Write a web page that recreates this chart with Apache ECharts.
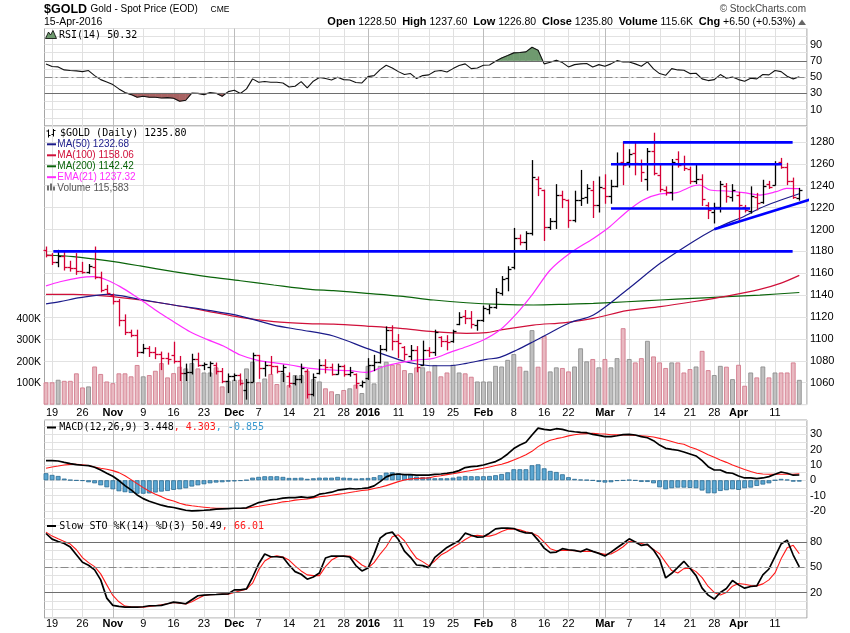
<!DOCTYPE html>
<html>
<head>
<meta charset="utf-8">
<title>$GOLD</title>
<script src="https://cdn.jsdelivr.net/npm/echarts@6.0.0/dist/echarts.min.js"></script>
<style>
html,body{margin:0;padding:0;background:#ffffff;}
#chart{width:850px;height:633px;}
</style>
</head>
<body>
<div id="chart"></div>
<script>
// ================= DATA =================
const tradingDays = ['10/16','10/19','10/20','10/21','10/22','10/23','10/26','10/27','10/28','10/29','10/30',
'11/02','11/03','11/04','11/05','11/06','11/09','11/10','11/11','11/12','11/13','11/16','11/17','11/18','11/19','11/20','11/23','11/24','11/25','11/27','11/30',
'12/01','12/02','12/03','12/04','12/07','12/08','12/09','12/10','12/11','12/14','12/15','12/16','12/17','12/18','12/21','12/22','12/23','12/24','12/28','12/29','12/30','12/31',
'01/04','01/05','01/06','01/07','01/08','01/11','01/12','01/13','01/14','01/15','01/19','01/20','01/21','01/22','01/25','01/26','01/27','01/28','01/29',
'02/01','02/02','02/03','02/04','02/05','02/08','02/09','02/10','02/11','02/12','02/16','02/17','02/18','02/19','02/22','02/23','02/24','02/25','02/26','02/29',
'03/01','03/02','03/03','03/04','03/07','03/08','03/09','03/10','03/11','03/14','03/15','03/16','03/17','03/18','03/21','03/22','03/23','03/24','03/28','03/29','03/30','03/31',
'04/01','04/04','04/05','04/06','04/07','04/08','04/11','04/12','04/13','04/14','04/15'];

const openPx = [1181,1177,1170,1176,1166,1165,1162,1161,1166,1157,
1146,1140,1135,1117,1106,1104,1088,1092,1088,1086,
1083,1085,1080,1069,1070,1082,1076,1074,1076,1071,
1062,1066,1067,1053,1061,1085,1073,1076,1075,1071,
1066,1060,1063,1071,1050,1069,1076,1074,1068,1075,
1068,1068,1058,1064,1076,1079,1091,1108,1098,1093,
1084,1090,1076,1090,1088,1102,1098,1098,1114,1121,
1119,1113,1117,1127,1129,1142,1156,1166,1192,1189,
1197,1246,1236,1202,1208,1232,1227,1209,1227,1230,
1236,1222,1238,1231,1240,1262,1262,1270,1260,1246,
1272,1250,1236,1234,1264,1260,1255,1244,1246,1222,
1216,1221,1240,1230,1232,1221,1217,1230,1225,1242,
1241,1262,1257,1244,1228.5];
const highPx = [1184,1178,1181,1179,1171,1178,1170,1168,1184,1161,
1149,1141,1136,1122,1108,1108,1095,1093,1092,1088,
1087,1097,1084,1077,1086,1087,1078,1079,1078,1073,
1068,1068,1068,1063,1087,1085,1079,1084,1075,1076,
1069,1066,1077,1072,1068,1081,1081,1077,1077,1076,
1074,1068,1061.5,1082,1085,1094,1111,1112,1104,1093,
1094,1093,1098,1092,1108,1102,1103,1108,1124,1126,
1125,1117,1130,1131,1146,1157,1166,1201,1195,1198,
1263,1248,1236,1210,1241,1235,1227,1235,1254,1241,
1244,1248,1250,1245,1270,1280,1273,1279,1263.5,1274,
1288,1260,1239,1264,1271,1267,1257,1260,1250,1224.5,
1224,1244,1242,1241,1234,1222,1239,1233,1245,1244,
1262,1265,1260.5,1247,1237.6];
const lowPx = [1175,1168,1166,1163,1162,1159,1160,1160,1155,1143,
1141,1132,1112,1104,1102,1084,1087,1084,1082,1072,
1077,1078,1062,1062,1068,1075,1072,1066,1068,1060,
1051,1062,1058,1045,1061,1064,1066,1068,1069,1061,
1056,1058,1060,1046,1048,1068,1069,1067,1068,1066,
1066,1055,1056,1063,1071,1078,1089,1090,1083,1081,
1081,1070,1076,1084,1085,1093,1090,1097,1113,1114,
1110,1108,1116,1123,1128,1140,1144,1164,1186,1180,
1195,1231,1190,1200,1201,1220,1202,1207,1222,1224,
1211,1216,1224,1224,1239,1241,1257,1250,1244,1236,
1250,1234.6,1231.5,1227,1257,1254,1242,1242,1222,1210,
1206,1216,1225,1226,1208,1216,1215,1218,1224,1237.6,
1240.7,1256,1241,1228.5,1226.8];
const closePx = [1177,1170,1176,1166,1165,1162,1161,1167,1157,1145,
1142,1135,1117,1106,1104,1088,1092,1088,1086,1083,
1082,1080,1069,1070,1082,1076,1077,1078,1071,1062,
1066,1067,1060,1061,1085,1073,1076,1075,1071,1074,
1060,1063,1073,1050,1065,1076,1074,1068,1075,1068,
1070,1060,1061,1076,1079,1091,1108,1098,1096,1086,
1090,1074,1090,1088,1106,1098,1097,1107,1120,1119,
1114,1117,1128,1129,1143,1155,1164,1192,1189,1197,
1248,1238,1202,1208,1232,1228,1209,1227,1229,1238,
1222,1239,1231,1240,1261,1259,1269,1261,1253,1272,
1252,1237,1234,1262,1259,1256,1244,1246,1228,1218,
1221,1242,1231,1236,1222,1218,1231,1224,1240,1239,
1260,1257,1244,1229.3,1235.8];
// volume in thousands of contracts
const volumeK = [104,104,116,111,111,146,80,85,178,143,
108,100,146,146,132,185,132,138,158,194,
127,147,177,169,194,169,150,150,174,85,
111,116,116,169,200,104,122,143,96,147,
91,138,138,158,119,108,76,62,49,68,
76,93,54,181,99,181,200,186,189,161,
147,174,174,155,185,132,150,186,150,146,
130,108,108,108,181,178,209,236,177,158,
348,177,321,155,174,171,155,178,263,202,
213,174,213,174,217,357,213,197,217,298,
225,197,171,197,197,150,166,178,251,161,
138,181,177,119,186,88,150,127,178,127,
150,150,150,197,115.583];

const rsi14 = [66.2,62.9,62.5,58.8,58.0,57.6,56.7,58.0,51.8,46.9,
44.1,40.8,35.5,31.0,28.5,25.3,26.5,25.3,25.3,24.4,
24.8,24.0,20.3,21.6,30.3,30.0,28.5,31.0,30.2,26.5,
32.2,33.8,29.8,35.5,47.8,43.7,44.5,43.7,43.7,42.8,
37.9,38.8,44.5,36.7,44.9,49.4,48.2,46.5,49.8,46.9,
46.5,43.3,42.8,50.6,51.8,59.2,64.5,61.2,56.7,53.1,
54.3,48.2,51.8,52.7,57.2,58.0,56.3,60.4,64.1,66.2,
60.4,61.2,64.5,64.9,69.4,73.5,76.4,79.7,80.1,80.9,
86.6,82.9,66.2,68.2,70.7,67.8,62.5,65.3,66.2,66.6,
62.5,65.3,63.3,66.2,70.2,68.6,68.6,66.2,63.3,68.6,
60.0,54.3,52.2,60.4,58.8,58.4,54.3,54.7,47.8,45.7,
46.9,53.1,48.6,50.2,46.9,44.9,48.6,47.8,53.1,52.7,
58.0,56.7,51.0,47.8,50.32];

const macdLine = [12.8,12.8,12.6,11.7,10.9,10.2,9.8,9.6,8.5,6.7,
4.6,2.6,-0.2,-3.5,-6.3,-9.6,-12.0,-13.7,-15.0,-16.3,
-17.2,-17.8,-18.7,-19.6,-20.0,-19.8,-19.6,-19.3,-18.9,-18.7,
-18.5,-18.3,-18.3,-18.0,-16.3,-14.6,-13.7,-12.8,-12.4,-11.7,
-11.3,-11.3,-10.9,-11.3,-10.9,-9.1,-8.5,-7.8,-6.5,-5.9,
-5.4,-5.7,-5.4,-5.0,-3.7,-0.9,2.2,3.7,4.1,3.7,
3.7,3.3,3.3,3.3,3.9,4.1,4.6,5.2,6.3,8.3,
8.9,9.3,10.0,11.1,12.2,14.3,17.2,20.7,23.0,24.8,
29.6,34.1,33.3,32.8,33.7,33.3,32.2,31.7,31.3,31.1,
30.0,29.3,28.5,28.5,29.1,29.8,30.0,29.6,28.5,27.8,
25.9,23.0,20.9,20.2,19.6,18.5,17.2,15.9,12.8,8.9,
6.7,6.7,5.0,4.6,2.8,1.5,1.5,1.1,1.5,2.4,
3.9,5.4,4.6,3.3,3.448];
const macdSignal = [7.9,8.7,9.3,10.0,10.4,10.4,10.1,9.6,8.7,7.9,
7.2,6.3,5.0,2.9,0.4,-2.2,-4.8,-7.2,-9.1,-10.7,
-12.5,-13.5,-15.0,-16.1,-16.7,-17.2,-17.6,-18.0,-18.3,-18.4,
-18.5,-18.5,-18.5,-18.3,-17.6,-17.0,-16.3,-15.7,-15.0,-14.1,
-13.7,-13.0,-12.6,-12.2,-11.5,-10.8,-10.4,-9.8,-9.2,-8.7,
-8.0,-7.4,-6.7,-6.3,-5.4,-4.6,-3.5,-2.2,-0.9,0.2,
0.9,1.2,1.4,1.5,2.5,3.0,3.7,4.3,5.0,5.7,
6.4,7.1,7.8,8.7,9.6,10.5,11.7,13.3,14.9,16.7,
18.9,22.0,24.3,26.1,27.2,28.0,29.0,29.8,30.2,30.5,
30.7,30.4,30.2,29.8,29.7,29.6,29.6,29.3,29.1,28.8,
28.3,27.4,26.5,25.4,24.2,23.5,21.7,20.4,18.7,16.7,
15.0,13.3,11.7,10.0,8.5,7.0,5.7,4.6,4.1,3.9,
3.9,3.9,3.9,3.9,4.303];
const macdHist = [4.6,3.5,2.8,1.1,0.2,-0.2,-0.4,-1.3,-2.0,-3.3,
-4.6,-5.9,-7.2,-7.8,-8.3,-8.8,-8.8,-8.6,-8.0,-7.4,
-7.0,-6.3,-5.9,-5.2,-4.1,-3.3,-2.6,-2.0,-1.5,-1.3,
-0.9,-0.7,-0.4,0.1,1.7,2.2,2.6,2.6,2.6,2.2,
1.5,1.5,1.7,0.9,1.3,1.7,1.7,1.7,2.2,1.7,
1.5,1.1,1.3,1.5,2.0,3.3,5.0,5.2,4.6,3.9,
3.7,2.4,2.0,2.0,1.3,1.3,1.3,1.7,2.4,2.8,
2.6,2.6,2.6,2.8,3.3,4.1,5.2,7.2,7.2,7.2,
9.8,10.4,7.8,6.1,5.4,3.9,2.0,0.9,0.4,0.2,
-0.2,-1.1,-1.5,-1.3,-0.4,-0.2,0.2,-0.2,-1.1,-1.1,
-2.0,-4.6,-5.9,-5.2,-4.8,-4.8,-5.0,-5.2,-6.7,-8.5,
-8.5,-7.0,-6.5,-5.9,-6.3,-5.2,-4.8,-3.7,-2.8,-2.0,
0.0,0.9,0.4,-0.9,-0.855];

const stoK = [90.0,83.3,80.6,78.2,73.9,64.9,55.9,52.4,46.9,35.1,
13.5,4.9,3.7,2.9,2.9,2.9,3.3,4.5,4.5,4.9,
6.9,8.8,8.0,6.9,11.6,16.3,17.1,17.5,17.8,18.2,
18.6,23.3,23.3,24.5,38.2,53.9,65.7,62.5,62.5,61.8,
52.7,44.9,41.8,35.9,38.6,43.3,61.0,63.3,63.3,63.3,
62.2,52.0,45.7,49.2,65.3,84.5,90.0,91.6,82.9,69.2,
61.8,52.7,52.0,49.6,61.8,67.6,73.5,77.5,81.4,90.4,
88.0,85.7,86.1,90.4,95.5,96.3,96.3,95.9,92.7,90.8,
90.4,82.2,72.7,67.3,68.0,72.0,70.8,70.0,68.4,71.6,
68.8,66.5,63.3,68.0,73.1,78.2,83.7,79.8,75.9,77.1,
70.4,59.4,37.5,42.9,50.0,57.1,48.8,40.2,25.3,17.1,
12.4,20.2,24.9,34.3,29.2,25.3,27.3,28.0,41.0,48.0,
62.5,77.5,82.2,64.5,50.49];
const stoD = [91.6,86.9,83.7,80.6,77.5,70.8,61.4,55.5,50.8,42.2,
29.2,16.7,9.2,4.1,3.3,2.9,2.9,3.7,4.5,5.7,
6.9,8.4,7.6,6.5,9.2,13.1,16.7,17.5,17.8,18.2,
18.2,20.2,22.2,24.1,31.2,46.9,57.5,61.8,63.7,62.2,
58.6,51.6,45.7,41.0,40.2,40.2,50.8,58.6,62.5,63.3,
63.3,58.6,52.7,49.2,55.5,65.7,74.3,86.1,88.4,81.4,
70.4,60.6,56.7,52.0,57.5,64.5,68.4,73.5,77.8,82.9,
86.9,88.0,86.9,86.9,88.8,92.4,95.1,95.5,94.3,92.0,
90.4,86.9,79.8,72.0,69.6,70.0,70.0,69.6,68.8,68.8,
68.8,66.9,65.3,65.7,69.6,74.3,80.6,79.8,78.2,76.3,
71.2,66.1,55.9,46.1,43.3,48.4,48.8,44.9,37.8,27.3,
20.2,17.1,20.2,27.6,30.8,30.0,28.4,28.0,30.4,35.1,
43.3,60.0,73.0,76.0,66.01];

// moving averages, read as [day index, value] points along each curve
const ma50 = [[0,1132],[2.3,1134.1],[5.6,1137.7],[10,1140.8],[12.2,1139.6],[15.5,1136.2],[21,1131.0],[26.5,1126.4],[32,1120.9],[37.5,1112.7],[41.8,1108.4],[47.3,1102.7],[52.8,1091.4],[58.3,1080.7],[61,1077.1],[63.8,1075.5],[66.5,1075.5],[69.2,1077.7],[72.5,1081.3],[74.7,1083.2],[77.5,1089.9],[80.2,1097.5],[83,1105.7],[86.3,1115.0],[90.1,1121.8],[95.6,1144.7],[101.1,1169.1],[106.5,1188.9],[109.8,1199.6],[112.1,1205.6],[114.8,1211.7],[117.5,1219.4],[120.2,1225.4],[124,1232.68]];
const ma100 = [[0,1140.8],[4.5,1140.8],[10,1139.2],[15.5,1135.6],[21,1131.0],[26.5,1125.5],[32,1119.7],[37.5,1115.8],[43,1114.0],[47.3,1113.6],[52.8,1111.8],[58.3,1109.7],[63.8,1106.6],[69.2,1105.1],[72.5,1105.7],[74.7,1108.1],[80.2,1112.7],[85.5,1115.0],[90.1,1118.8],[95.6,1125.8],[101.1,1129.5],[106.5,1134.0],[112.1,1139.2],[117.5,1145.3],[121,1151.0],[124,1158.06]];
const ma200 = [[0,1176.7],[4.5,1175.2],[10,1171.5],[15.5,1166.7],[21,1161.5],[26.5,1156.9],[32,1153.2],[37.5,1149.3],[43.5,1145.3],[47.3,1144.1],[52.8,1141.7],[58.3,1139.2],[63.8,1135.6],[69.2,1133.1],[74.7,1131.6],[80.2,1131.0],[86.3,1131.9],[90.1,1132.5],[95.6,1134.0],[101.1,1135.6],[106.5,1137.1],[112.1,1138.6],[117.5,1140.1],[124,1142.42]];
const ema21 = [[0,1148.5],[2.3,1152.3],[5.6,1156.0],[7.8,1156.9],[10,1153.9],[12.2,1147.8],[14.4,1140.2],[16.6,1131.9],[18.8,1123.4],[21,1115.8],[23.7,1106.6],[26.5,1099.6],[29.2,1093.5],[32,1085.3],[34.7,1080.7],[37.5,1078.3],[40.2,1076.2],[43.5,1073.1],[47.3,1071.6],[50,1071.0],[52.8,1069.4],[55.5,1074.6],[58.3,1078.3],[61,1080.7],[63.8,1082.3],[66.5,1087.7],[69.2,1092.9],[72,1099.0],[74.7,1108.1],[77.5,1123.4],[80.2,1141.7],[83,1163.0],[86.3,1178.5],[90.1,1191.9],[92.8,1202.6],[95.6,1216.3],[98.3,1227.0],[101.1,1232.5],[103.8,1233.7],[106.5,1239.8],[107.6,1240.7],[109.3,1236.1],[112.1,1235.2],[114.8,1233.7],[117.5,1231.5],[120.2,1234.6],[121.9,1237.6],[124,1237.32]];

// hand-drawn annotation lines: [[startIndex, price], [endIndex, price]]
const trendLines = [
  [[1.2,1180],[122.9,1180]],
  [[95.0,1279.6],[122.9,1279.6]],
  [[93.0,1259.6],[121.1,1259.6]],
  [[93.0,1219.2],[115.9,1219.2]],
  [[110.0,1200.2],[126.9,1229.4]]
];

// x-axis ticks (day index, label) and vertical grid positions
const xTicks = [[1,'19'],[6,'26'],[11,'Nov'],[16,'9'],[21,'16'],[26,'23'],[31,'Dec'],[35,'7'],[40,'14'],[45,'21'],[49,'28'],[53,'2016'],[58,'11'],[63,'19'],[67,'25'],[72,'Feb'],[77,'8'],[82,'16'],[86,'22'],[92,'Mar'],[96,'7'],[101,'14'],[106,'21'],[110,'28'],[114,'Apr'],[120,'11']];
const weekStarts = [1,6,11,16,21,26,30,35,40,45,49,53,58,63,67,72,77,82,86,91,96,101,106,110,115,120];
const monthStarts = [11,31,53,72,92,114];

const rsiTickLabels = [10,30,50,70,90];
const priceTickLabels = [1060,1080,1100,1120,1140,1160,1180,1200,1220,1240,1260,1280];
const volTickLabels = [100,200,300,400];
const macdTickLabels = [-20,-10,0,10,20,30];
const stoTickLabels = [20,50,80];

const header = {open:'1228.50', high:'1237.60', low:'1226.80', close:'1235.80', volume:'115.6K', chg:'+6.50 (+0.53%)', date:'15-Apr-2016'};

// ================= CHART =================
const N = closePx.length;
const FONT = '"Liberation Sans", Arial, sans-serif';
const MONO = '"DejaVu Sans Mono", monospace';
const RED = '#d40035';
const C_MA50 = '#1b1b8a', C_MA100 = '#d0103a', C_MA200 = '#0a640a', C_EMA = '#ff2cff';
const upFlag = closePx.map((c, i) => (i === 0 ? c >= openPx[0] : c >= closePx[i - 1]) ? 1 : 0);

const gridBox = (top, h) => ({left: 44.5, top: top, width: 762.4, height: h, show: true,
  borderColor: '#a6a6a6', borderWidth: 1, backgroundColor: 'transparent'});
const grids = [gridBox(28.5, 97.5), gridBox(126, 278.6), gridBox(420, 98.5), gridBox(518.5, 99.5)];

const tickMap = {}; xTicks.forEach(t => { tickMap[t[0]] = t[1]; });
const monthSet = new Set(monthStarts);
function xLabel(v) {
  const r = Math.round(v);
  if (Math.abs(v - r) > 1e-6) return '';
  const t = tickMap[r];
  if (t === undefined) return '';
  return monthSet.has(r) ? '{b|' + t + '}' : t;
}
const pick = arr => v => { const r = Math.round(v * 1000) / 1000; return arr.indexOf(r) >= 0 ? String(r) : ''; };

const xAxes = [0, 1, 2, 3].map(k => ({
  type: 'value', gridIndex: k, min: -0.25, max: 125.25, interval: 0.25,
  axisLine: {show: false}, axisTick: {show: false}, splitLine: {show: false},
  axisLabel: {show: k === 1 || k === 3, formatter: xLabel, margin: k === 1 ? 3 : 0,
    color: '#000', fontSize: 11, fontFamily: FONT,
    rich: {b: {fontWeight: 'bold', fontSize: 11, fontFamily: FONT, color: '#000'}}}
}));
const yBase = (k, min, max, interval, labels, extra) => Object.assign({
  type: 'value', gridIndex: k, position: 'right', min: min, max: max, interval: interval,
  axisLine: {show: false}, axisTick: {show: false},
  splitLine: {show: true, lineStyle: {color: '#e2e2e2', width: 1}},
  axisLabel: {formatter: pick(labels), margin: 3, color: '#000', fontSize: 11, fontFamily: FONT}
}, extra || {});
const yAxes = [
  yBase(0, -10, 109.6, 10, rsiTickLabels),
  yBase(1, 1040, 1294.6, 20, priceTickLabels),
  yBase(1, 0, 1302, 100, volTickLabels, {position: 'left', splitLine: {show: false},
    axisLabel: {formatter: v => volTickLabels.indexOf(Math.round(v)) >= 0 ? Math.round(v) + 'K' : '',
      margin: 3.5, color: '#000', fontSize: 10.5, fontFamily: FONT}}),
  yBase(2, -25, 39.4, 5, macdTickLabels),
  yBase(3, -10, 107.75, 10, stoTickLabels)
];

function vGridSeries(xi, yi, yval, markLines) {
  const s = {
    type: 'custom', xAxisIndex: xi, yAxisIndex: yi, silent: true, z: 1,
    data: weekStarts.map(d => [d, yval, 0]).concat(monthStarts.map(d => [d, yval, 1])),
    encode: {x: 0, y: 1},
    renderItem: function (params, api) {
      const cs = params.coordSys;
      const x = Math.round(api.coord([api.value(0), api.value(1)])[0]) + 0.5;
      const m = api.value(2);
      return {type: 'line', shape: {x1: x, y1: cs.y, x2: x, y2: cs.y + cs.height},
        style: {stroke: m ? '#bcbcbc' : '#e0e0e0', lineWidth: 1}};
    }
  };
  if (markLines) {
    s.markLine = {silent: true, symbol: 'none', label: {show: false}, animation: false, data: markLines};
  }
  return s;
}
const solidRef = v => ({yAxis: v, lineStyle: {color: '#6e6e6e', width: 1, type: 'solid'}});
const dashRef = v => ({yAxis: v, lineStyle: {color: '#8a8a8a', width: 1, type: [8, 3, 2, 3]}});

const lineS = (xi, yi, data, color, width, z, extra) => Object.assign({
  type: 'line', xAxisIndex: xi, yAxisIndex: yi, data: data, symbol: 'none', silent: true,
  lineStyle: {color: color, width: width}, z: z || 3
}, extra || {});

const series = [];
// ---------- RSI panel ----------
series.push(vGridSeries(0, 0, 50, [solidRef(70), solidRef(30), dashRef(50)]));
series.push({
  type: 'custom', xAxisIndex: 0, yAxisIndex: 0, silent: true, z: 2,
  data: rsi14.map((v, i) => [i, v, i < N - 1 ? rsi14[i + 1] : v]),
  encode: {x: 0, y: 1},
  renderItem: function (params, api) {
    const i = api.value(0), a = api.value(1), b = api.value(2);
    if (i >= N - 1) return;
    const kids = [];
    const region = (th, sgn, color) => {
      const da = (a - th) * sgn, db = (b - th) * sgn;
      if (da <= 0 && db <= 0) return;
      let pts;
      if (da > 0 && db > 0) pts = [[i, th], [i, a], [i + 1, b], [i + 1, th]];
      else if (da > 0) { const t = da / (da - db); pts = [[i, th], [i, a], [i + t, th]]; }
      else { const t = da / (da - db); pts = [[i + t, th], [i + 1, b], [i + 1, th]]; }
      kids.push({type: 'polygon', shape: {points: pts.map(p => api.coord(p))},
        style: {fill: color, stroke: color, lineWidth: 0.6}});
    };
    region(70, 1, '#6f9a6f');
    region(30, -1, '#a86262');
    return {type: 'group', children: kids};
  }
});
series.push(lineS(0, 0, rsi14.map((v, i) => [i, v]), '#111', 1.1, 3));

// ---------- Price panel ----------
series.push(vGridSeries(1, 1, 1100));
series.push({
  type: 'bar', xAxisIndex: 1, yAxisIndex: 2, barWidth: 4.8, silent: true, z: 2,
  data: volumeK.map((v, i) => ({value: [i, v], itemStyle: upFlag[i]
    ? {color: '#c0c0c0', borderColor: '#8e8e8e', borderWidth: 0.9}
    : {color: '#e8b9c1', borderColor: '#d27a8c', borderWidth: 0.9}}))
});
series.push(lineS(1, 1, ma200, C_MA200, 1.2, 3, {smooth: 0.3}));
series.push(lineS(1, 1, ma100, C_MA100, 1.2, 3, {smooth: 0.3}));
series.push(lineS(1, 1, ma50, C_MA50, 1.2, 3, {smooth: 0.3}));
series.push(lineS(1, 1, ema21, C_EMA, 1.2, 3, {smooth: 0.3}));
series.push({
  type: 'custom', xAxisIndex: 1, yAxisIndex: 1, silent: true, z: 4,
  data: closePx.map((c, i) => [i, openPx[i], highPx[i], lowPx[i], c, upFlag[i]]),
  encode: {x: 0, y: [1, 2, 3, 4]},
  renderItem: function (params, api) {
    const i = api.value(0);
    const pH = api.coord([i, api.value(2)]), pL = api.coord([i, api.value(3)]);
    const pO = api.coord([i, api.value(1)]), pC = api.coord([i, api.value(4)]);
    const x = Math.round(pH[0]) + 0.5;
    const col = api.value(5) ? '#000000' : RED;
    const st = {stroke: col, lineWidth: 1.3};
    const yo = Math.round(pO[1]) + 0.5, yc = Math.round(pC[1]) + 0.5;
    return {type: 'group', children: [
      {type: 'line', shape: {x1: x, y1: pH[1] - 0.5, x2: x, y2: pL[1] + 0.5}, style: st},
      {type: 'line', shape: {x1: x - 3, y1: yo, x2: x, y2: yo}, style: st},
      {type: 'line', shape: {x1: x, y1: yc, x2: x + 3, y2: yc}, style: st}
    ]};
  }
});
trendLines.forEach(seg => series.push(lineS(1, 1, seg, '#0000ff', 2.6, 6, {clip: false})));

// ---------- MACD panel ----------
series.push(vGridSeries(2, 3, 0));
series.push({
  type: 'bar', xAxisIndex: 2, yAxisIndex: 3, barWidth: 4.8, silent: true, z: 2,
  data: macdHist.map((v, i) => [i, v]),
  itemStyle: {color: '#5ba6d1', borderColor: '#2a6b93', borderWidth: 0.8}
});
series.push(lineS(2, 3, macdSignal.map((v, i) => [i, v]), '#ff1a1a', 1.1, 3));
series.push(lineS(2, 3, macdLine.map((v, i) => [i, v]), '#000', 1.7, 4));

// ---------- Slow STO panel ----------
series.push(vGridSeries(3, 4, 50, [solidRef(80), solidRef(20), dashRef(50)]));
series.push(lineS(3, 4, stoD.map((v, i) => [i, v]), '#ff1a1a', 1.1, 3));
series.push(lineS(3, 4, stoK.map((v, i) => [i, v]), '#000', 1.7, 4));

// ---------- texts ----------
function txt(x, y, text, font, fill, align) {
  return {type: 'text', x: x, y: y, silent: true, z: 100,
    style: {text: text, font: font, fill: fill, textFill: fill,
      align: align || 'left', textAlign: align || 'left', verticalAlign: 'middle', textVerticalAlign: 'middle'}};
}
function rich(x, y, text, baseFont, richDef, align) {
  const r = {};
  Object.keys(richDef).forEach(k => {
    const d = richDef[k];
    r[k] = {fontSize: d.size, fontFamily: d.family, fontWeight: d.weight || 'normal', fill: d.color, textFill: d.color, color: d.color};
  });
  return {type: 'text', x: x, y: y, silent: true, z: 100,
    style: {text: text, font: baseFont, fill: '#000', textFill: '#000', rich: r,
      align: align || 'left', textAlign: align || 'left', verticalAlign: 'middle', textVerticalAlign: 'middle'}};
}
const hl = (x1, y1, x2, y2, color, w) => ({type: 'line', silent: true, z: 100,
  shape: {x1: x1, y1: y1, x2: x2, y2: y2}, style: {stroke: color, lineWidth: w}});
const last = a => a[a.length - 1];
const lastPt = a => a[a.length - 1][1];
const fmtInt = v => Math.round(v * 1000).toLocaleString('en-US');

const graphics = [
  txt(44, 9.5, '$GOLD', 'bold 12.5px ' + FONT, '#000'),
  txt(90.5, 9.5, 'Gold - Spot Price (EOD)', '10px ' + FONT, '#000'),
  txt(210.5, 10, 'CME', '8.5px ' + FONT, '#000'),
  txt(44, 22, header.date, '10.5px ' + FONT, '#000'),
  rich(795.5, 22,
    '{b|Open} {v|' + header.open + '}  {b|High} {v|' + header.high + '}  {b|Low} {v|' + header.low +
    '}  {b|Close} {v|' + header.close + '}  {b|Volume} {v|' + header.volume + '}  {b|Chg} {v|' + header.chg + '}',
    '10.5px ' + FONT,
    {b: {size: 11, family: FONT, weight: 'bold', color: '#000'}, v: {size: 10.5, family: FONT, color: '#000'}},
    'right'),
  {type: 'polygon', silent: true, z: 100, shape: {points: [[798, 25], [802, 19.5], [806, 25]]}, style: {fill: '#666'}},
  txt(806, 9, '\u00A9 StockCharts.com', '10px ' + FONT, '#444', 'right'),
  // RSI legend
  {type: 'polygon', silent: true, z: 100, shape: {points: [[45.5, 38.5], [48.5, 32], [50.5, 35], [53, 30.5], [56.5, 38.5]]},
    style: {fill: '#6f9a6f', stroke: '#000', lineWidth: 0.8}},
  txt(59, 35, 'RSI(14) ' + last(rsi14).toFixed(2), '10px ' + MONO, '#000'),
  // price legend
  hl(48.5, 129.5, 48.5, 137.5, '#000', 1), hl(46.5, 131, 48.5, 131, '#000', 1), hl(48.5, 135.5, 50.5, 135.5, '#000', 1),
  hl(53.5, 129, 53.5, 136.5, '#000', 1), hl(51.5, 134.5, 53.5, 134.5, '#000', 1), hl(53.5, 130.5, 55.5, 130.5, '#000', 1),
  txt(60, 133.5, '$GOLD (Daily) ' + last(closePx).toFixed(2), '10px ' + MONO, '#000'),
  hl(47, 144.3, 56, 144.3, C_MA50, 2), txt(57.3, 144.3, 'MA(50) ' + lastPt(ma50).toFixed(2), '10px ' + FONT, C_MA50),
  hl(47, 155.3, 56, 155.3, C_MA100, 2), txt(57.3, 155.3, 'MA(100) ' + lastPt(ma100).toFixed(2), '10px ' + FONT, C_MA100),
  hl(47, 166.3, 56, 166.3, C_MA200, 2), txt(57.3, 166.3, 'MA(200) ' + lastPt(ma200).toFixed(2), '10px ' + FONT, C_MA200),
  hl(47, 177.2, 56, 177.2, C_EMA, 2), txt(57.3, 177.2, 'EMA(21) ' + lastPt(ema21).toFixed(2), '10px ' + FONT, C_EMA),
  {type: 'rect', silent: true, z: 100, shape: {x: 47, y: 185.5, width: 2, height: 5}, style: {fill: '#707070'}},
  {type: 'rect', silent: true, z: 100, shape: {x: 50, y: 183.5, width: 2, height: 7}, style: {fill: '#707070'}},
  {type: 'rect', silent: true, z: 100, shape: {x: 53, y: 186.5, width: 2, height: 4}, style: {fill: '#707070'}},
  txt(57.3, 187.8, 'Volume ' + fmtInt(last(volumeK)), '10px ' + FONT, '#555'),
  // MACD legend
  hl(47, 427.5, 56, 427.5, '#000', 2),
  rich(59.3, 427.5,
    '{k|MACD(12,26,9) ' + last(macdLine).toFixed(3) + '}{r|, ' + last(macdSignal).toFixed(3) + '}{c|, ' + last(macdHist).toFixed(3) + '}',
    '10px ' + MONO,
    {k: {size: 10, family: MONO, color: '#000'}, r: {size: 10, family: MONO, color: '#ff1a1a'}, c: {size: 10, family: MONO, color: '#3b9ad0'}}),
  // STO legend
  hl(47, 526, 56, 526, '#000', 2),
  rich(59.3, 526,
    '{k|Slow STO %K(14) %D(3) ' + last(stoK).toFixed(2) + '}{r|, ' + last(stoD).toFixed(2) + '}',
    '10px ' + MONO,
    {k: {size: 10, family: MONO, color: '#000'}, r: {size: 10, family: MONO, color: '#ff1a1a'}})
];

const chart = echarts.init(document.getElementById('chart'), null, {renderer: 'canvas', width: 850, height: 633});
chart.setOption({
  animation: false,
  backgroundColor: '#ffffff',
  grid: grids,
  xAxis: xAxes,
  yAxis: yAxes,
  series: series,
  graphic: {elements: graphics}
});
</script>
</body>
</html>
